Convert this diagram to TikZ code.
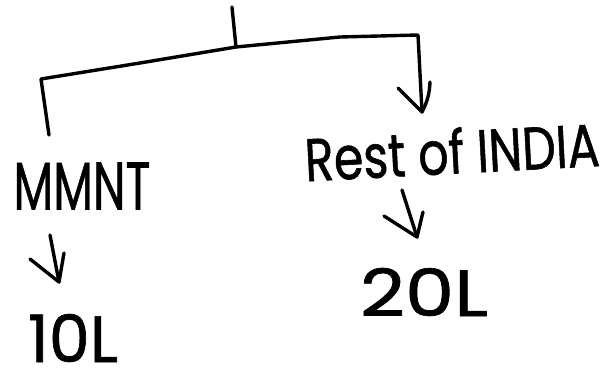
\documentclass[tikz,border=0pt]{standalone}
\usepackage{fontspec}
\setmainfont{Poppins}
\newfontfamily\handfont{Poppins}[FakeBold=1]
\usepackage{graphicx}
\begin{document}
\begin{tikzpicture}[x=1pt,y=-1pt,
  ink/.style={line width=3.4pt,line cap=round,line join=round,black},
  lbl/.style={inner sep=0pt,outer sep=0pt,font=\handfont\fontsize{40}{40}\selectfont}]
\useasboundingbox (0,0) rectangle (613,382);

% labels
\node[lbl] (mmnt) at (82,186) {\resizebox{137pt}{47pt}{MMNT}};
\node[lbl] (ten)  at (73,338) {\resizebox{90pt}{48pt}{10L}};
\node[lbl,rotate=3] (rest) at (452,151) {\resizebox{295pt}{46pt}{Rest of INDIA}};
\node[lbl] (twenty) at (424,292) {\resizebox{128pt}{48pt}{20L}};

% tree bracket
\coordinate (top)  at (232,7);
\coordinate (hub)  at (236,47);
\coordinate (lc)   at (41,79);
\coordinate (lend) at (49,135);
\coordinate (rc)   at (418,35);
\coordinate (rtip) at (422,112);
\draw[ink] (top) -- (hub);
\draw[ink] (lend) -- (lc) -- (140,63) -- (hub) -- (340,37) -- (rc) -- (rtip);
\draw[ink] (398,88) -- (rtip);
\draw[ink] (430,82) to[bend left=12] (rtip);

% arrows down to the amounts
\coordinate (a1s) at (50,235);
\coordinate (a1t) at (59,282);
\draw[ink] (a1s) -- (a1t);
\draw[ink] (30,259) -- (a1t) -- (64,253);

\coordinate (a2s) at (402,190);
\coordinate (a2t) at (417,237);
\draw[ink] (a2s) -- (a2t);
\draw[ink] (384,216) -- (a2t) -- (423,212);
\end{tikzpicture}
\end{document}
